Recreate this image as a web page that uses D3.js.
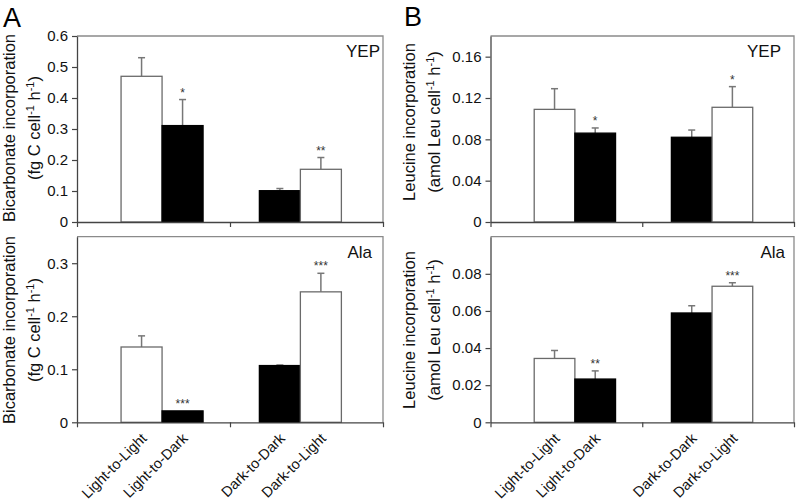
<!DOCTYPE html>
<html>
<head>
<meta charset="utf-8">
<script src="https://cdn.jsdelivr.net/npm/d3@7"></script>
<style>
  body { margin: 0; background: #fff; }
  svg text { font-family: "Liberation Sans", Arial, sans-serif; }
</style>
</head>
<body>
<div id="chart"></div>
<script>
// Data
const categories = ["Light-to-Light", "Light-to-Dark", "Dark-to-Dark", "Dark-to-Light"];

const bicarbYEP = [0.47, 0.311, 0.101, 0.17];
const bicarbYEPErr = [0.06, 0.084, 0.007, 0.038];
const bicarbYEPSig = ["", "*", "", "**"];
const bicarbYEPTicks = [0, 0.1, 0.2, 0.3, 0.4, 0.5, 0.6];

const bicarbAla = [0.142, 0.0215, 0.107, 0.246];
const bicarbAlaErr = [0.021, 0, 0.001, 0.035];
const bicarbAlaSig = ["", "***", "", "***"];
const bicarbAlaTicks = [0, 0.1, 0.2, 0.3];

const leuYEP = [0.109, 0.086, 0.082, 0.111];
const leuYEPErr = [0.02, 0.005, 0.007, 0.02];
const leuYEPSig = ["", "*", "", "*"];
const leuYEPTicks = [0, 0.04, 0.08, 0.12, 0.16];

const leuAla = [0.0344, 0.0233, 0.0589, 0.0733];
const leuAlaErr = [0.0043, 0.0044, 0.0039, 0.0019];
const leuAlaSig = ["", "**", "", "***"];
const leuAlaTicks = [0, 0.02, 0.04, 0.06, 0.08];

// Layout
const W = 797, H = 502;
const colA = { x0: 77, x1: 383 };
const colB = { x0: 490.5, x1: 794 };
const rowTop = { top: 36, zero: 222 };
const rowBot = { top: 236.7, zero: 422.3 };
const groupCenter = [0.278, 0.73];   // fraction of plot width
const barW = 0.134;
const frameColor = "#8a8a8a";
const axisColor = "#444";
const errColor = "#777";

const panels = [
  { col: colA, row: rowTop, values: bicarbYEP, err: bicarbYEPErr, sig: bicarbYEPSig, ticks: bicarbYEPTicks, max: 0.6, label: "YEP", labelPad: 3, xLabels: false },
  { col: colA, row: rowBot, values: bicarbAla, err: bicarbAlaErr, sig: bicarbAlaSig, ticks: bicarbAlaTicks, max: 0.35, label: "Ala", labelPad: 11, xLabels: true },
  { col: colB, row: rowTop, values: leuYEP, err: leuYEPErr, sig: leuYEPSig, ticks: leuYEPTicks, max: 0.18, label: "YEP", labelPad: 13, xLabels: false },
  { col: colB, row: rowBot, values: leuAla, err: leuAlaErr, sig: leuAlaSig, ticks: leuAlaTicks, max: 0.1, label: "Ala", labelPad: 9, xLabels: true }
];

const svg = d3.select("#chart").append("svg")
  .attr("width", W)
  .attr("height", H);

// bar i -> left edge in fraction units
const barLeft = i => groupCenter[i < 2 ? 0 : 1] + (i % 2 === 0 ? -barW : 0);
const barMid = i => barLeft(i) + barW / 2;
const barFill = i => (i === 1 || i === 2) ? "#000" : "#fff";
const fmt = d => d === 0 ? "0" : String(+d.toFixed(2));

panels.forEach(p => {
  const x = d3.scaleLinear().domain([0, 1]).range([p.col.x0, p.col.x1]);
  const y = d3.scaleLinear().domain([0, p.max]).range([p.row.zero, p.row.top]);
  const g = svg.append("g");
  const idx = d3.range(p.values.length);

  // frame top + right
  g.append("path")
    .attr("d", `M${x(0)},${y(p.max)}H${x(1)}V${y(0)}`)
    .attr("fill", "none")
    .attr("stroke", frameColor)
    .attr("stroke-width", 1.3);

  // error bars (upward only)
  const eb = g.selectAll(".err")
    .data(idx.filter(i => p.err[i] > 0))
    .enter().append("g")
    .attr("class", "err");
  eb.append("line")
    .attr("x1", i => x(barMid(i)))
    .attr("x2", i => x(barMid(i)))
    .attr("y1", i => y(p.values[i]))
    .attr("y2", i => y(p.values[i] + p.err[i]))
    .attr("stroke", errColor)
    .attr("stroke-width", 1.5);
  eb.append("line")
    .attr("x1", i => x(barMid(i)) - 3.5)
    .attr("x2", i => x(barMid(i)) + 3.5)
    .attr("y1", i => y(p.values[i] + p.err[i]))
    .attr("y2", i => y(p.values[i] + p.err[i]))
    .attr("stroke", errColor)
    .attr("stroke-width", 1.5);

  // bars
  g.selectAll(".bar")
    .data(idx)
    .enter().append("rect")
    .attr("class", "bar")
    .attr("x", i => x(barLeft(i)))
    .attr("width", x(barW) - x(0))
    .attr("y", i => y(p.values[i]))
    .attr("height", i => y(0) - y(p.values[i]))
    .attr("fill", i => barFill(i))
    .attr("stroke", i => barFill(i) === "#000" ? "#000" : "#6a6a6a")
    .attr("stroke-width", 1.3);

  // significance stars
  g.selectAll(".sig")
    .data(idx)
    .enter().append("text")
    .attr("class", "sig")
    .attr("x", i => x(barMid(i)))
    .attr("y", i => y(p.values[i] + p.err[i]) - 3)
    .attr("text-anchor", "middle")
    .style("font-size", "12px")
    .style("fill", "#333")
    .text(i => p.sig[i]);

  // y axis
  const ya = g.append("g")
    .attr("transform", `translate(${x(0)},0)`)
    .call(d3.axisLeft(y).tickValues(p.ticks).tickFormat(fmt).tickSize(5).tickSizeOuter(0));
  ya.select(".domain").attr("stroke", axisColor).attr("stroke-width", 1.3);
  ya.selectAll(".tick line").attr("stroke", axisColor).attr("stroke-width", 1.2);
  ya.selectAll(".tick text")
    .attr("x", -9)
    .style("font-size", "15px")
    .style("fill", "#111");

  // x axis (category boundaries)
  const xa = g.append("g")
    .attr("transform", `translate(0,${y(0)})`)
    .call(d3.axisBottom(x).tickValues([0, 0.5, 1]).tickFormat("").tickSize(5).tickSizeOuter(0));
  xa.select(".domain").attr("stroke", axisColor).attr("stroke-width", 1.3);
  xa.selectAll(".tick line").attr("stroke", axisColor).attr("stroke-width", 1.2);

  // panel label
  g.append("text")
    .attr("x", x(1) - p.labelPad)
    .attr("y", y(p.max) + 21)
    .attr("text-anchor", "end")
    .style("font-size", "17px")
    .style("fill", "#111")
    .text(p.label);

  if (p.xLabels) {
    g.selectAll(".xl")
      .data(categories)
      .enter().append("text")
      .attr("text-anchor", "end")
      .attr("transform", (d, i) => `translate(${x(barMid(i)) + 6},${y(0) + 17}) rotate(-45)`)
      .style("font-size", "14.5px")
      .style("fill", "#111")
      .text(d => d);
  }
});

// y axis titles (two lines, rotated)
function yTitle(cx1, cx2, cy, line1, unitPre, fs) {
  svg.append("text")
    .attr("transform", `translate(${cx1},${cy}) rotate(-90)`)
    .attr("text-anchor", "middle")
    .style("font-size", fs + "px")
    .style("fill", "#111")
    .text(line1);
  const t = svg.append("text")
    .attr("transform", `translate(${cx2},${cy}) rotate(-90)`)
    .attr("text-anchor", "middle")
    .style("font-size", fs + "px")
    .style("fill", "#111");
  t.append("tspan").text(`(${unitPre} cell`);
  t.append("tspan").attr("dy", -6).style("font-size", "11px").text("-1");
  t.append("tspan").attr("dy", 6).text(" h");
  t.append("tspan").attr("dy", -6).style("font-size", "11px").text("-1");
  t.append("tspan").attr("dy", 6).text(")");
}

yTitle(15, 40, 128, "Bicarbonate incorporation", "fg C", 16.5);
yTitle(15, 40, 330, "Bicarbonate incorporation", "fg C", 16.5);
yTitle(415, 440, 122, "Leucine incorporation", "amol Leu", 16.5);
yTitle(415, 440, 330, "Leucine incorporation", "amol Leu", 16.5);

// figure letters
svg.append("text").attr("x", 3).attr("y", 27)
  .style("font-size", "27px").style("fill", "#000").text("A");
svg.append("text").attr("x", 404).attr("y", 26)
  .style("font-size", "27px").style("fill", "#000").text("B");
</script>
</body>
</html>
